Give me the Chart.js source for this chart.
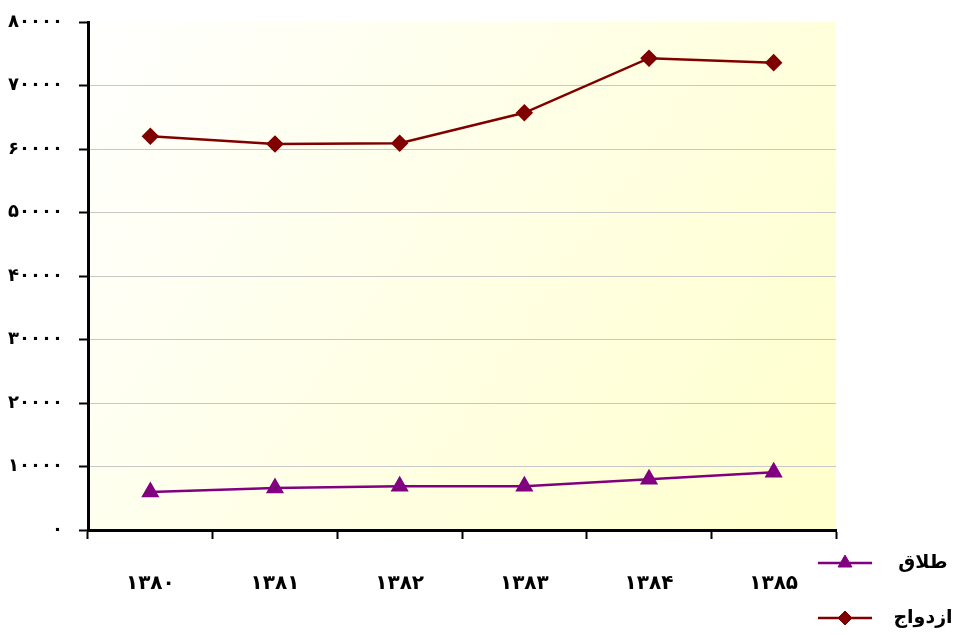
<!DOCTYPE html>
<html>
<head>
<meta charset="utf-8">
<script src="https://cdn.jsdelivr.net/npm/chart.js@4/dist/chart.umd.min.js"></script>
<style>
html,body{margin:0;padding:0;background:#fff;}
#wrap{width:968px;height:635px;position:relative;}
</style>
</head>
<body>
<div id="wrap"><canvas id="c" width="968" height="635"></canvas></div>
<script>
const categories = ['۱۳۸۰','۱۳۸۱','۱۳۸۲','۱۳۸۳','۱۳۸۴','۱۳۸۵'];
const divorceLabel = 'طلاق';
const marriageLabel = 'ازدواج';
const divorce = [6000, 6600, 6900, 6900, 8000, 9100];
const marriage = [62000, 60800, 60900, 65700, 74300, 73600];
const yTickValues = [0,10000,20000,30000,40000,50000,60000,70000,80000];
const yTickLabels = ['۰','۱۰۰۰۰','۲۰۰۰۰','۳۰۰۰۰','۴۰۰۰۰','۵۰۰۰۰','۶۰۰۰۰','۷۰۰۰۰','۸۰۰۰۰'];

const FONT = '"DejaVu Sans", "Noto Sans", sans-serif';

const bgPlugin = {
  id: 'bg',
  beforeDraw(chart) {
    const {ctx, chartArea: a} = chart;
    const g = ctx.createLinearGradient(a.left, a.top, a.right, a.bottom);
    g.addColorStop(0, '#ffffff');
    g.addColorStop(1, '#ffffcc');
    ctx.save();
    ctx.fillStyle = g;
    ctx.fillRect(a.left, a.top, a.right - a.left, a.bottom - a.top);
    ctx.restore();
  }
};

const legendPlugin = {
  id: 'customLegend',
  afterDraw(chart) {
    const ctx = chart.ctx;
    const items = [
      {ds: chart.data.datasets[0], y: 563},
      {ds: chart.data.datasets[1], y: 618}
    ];
    ctx.save();
    items.forEach(it => {
      ctx.strokeStyle = it.ds.borderColor;
      ctx.lineWidth = 2.5;
      ctx.beginPath();
      ctx.moveTo(818, it.y);
      ctx.lineTo(872, it.y);
      ctx.stroke();
      ctx.fillStyle = it.ds.pointBackgroundColor;
      ctx.strokeStyle = it.ds.pointBorderColor;
      ctx.lineWidth = 1;
      Chart.helpers.drawPoint(ctx, {pointStyle: it.ds.pointStyle, radius: it.ds.pointRadius, borderWidth: 1}, 845, it.y);
      ctx.fillStyle = '#000';
      ctx.font = 'bold 19px ' + FONT;
      ctx.textAlign = 'center';
      ctx.textBaseline = 'middle';
      ctx.fillText(it.ds.label, 923, it.y);
    });
    ctx.restore();
  }
};

new Chart(document.getElementById('c'), {
  type: 'line',
  data: {
    labels: categories,
    datasets: [
      {
        label: divorceLabel,
        data: divorce,
        borderColor: '#800080',
        backgroundColor: '#800080',
        pointBackgroundColor: '#800080',
        pointBorderColor: '#800080',
        pointStyle: 'triangle',
        pointRadius: 8,
        pointHoverRadius: 8,
        borderWidth: 2.5,
        tension: 0,
        fill: false
      },
      {
        label: marriageLabel,
        data: marriage,
        borderColor: '#800000',
        backgroundColor: '#800000',
        pointBackgroundColor: '#800000',
        pointBorderColor: '#800000',
        pointStyle: 'rectRot',
        pointRadius: 7,
        pointHoverRadius: 7,
        borderWidth: 2.5,
        tension: 0,
        fill: false
      }
    ]
  },
  options: {
    responsive: false,
    animation: false,
    layout: {padding: {left: 0, top: 22, right: 132, bottom: 0}},
    plugins: {legend: {display: false}, tooltip: {enabled: false}},
    scales: {
      x: {
        offset: true,
        grid: {
          offset: true,
          display: true,
          drawOnChartArea: false,
          drawTicks: true,
          tickLength: 9,
          tickColor: '#000',
          tickWidth: 2,
          color: '#000'
        },
        border: {display: true, color: '#000', width: 3},
        ticks: {
          color: '#000',
          font: {family: FONT, size: 20, weight: 'bold'},
          padding: 33,
          maxRotation: 0
        },
        afterFit(scale) { scale.height = 105; scale.paddingLeft = 0; scale.paddingRight = 0; }
      },
      y: {
        min: 0,
        max: 80000,
        afterBuildTicks(scale) { scale.ticks = yTickValues.map(v => ({value: v})); },
        grid: {
          color: ctx => (ctx.tick && ctx.tick.value === 80000) ? 'rgba(0,0,0,0)' : '#c8c8c8',
          lineWidth: 1,
          drawTicks: true,
          tickLength: 9,
          tickColor: '#000',
          tickWidth: 2
        },
        border: {display: true, color: '#000', width: 3},
        ticks: {
          color: '#000',
          font: {family: FONT, size: 18, weight: 'bold'},
          padding: 16,
          callback: (v) => { const i = yTickValues.indexOf(v); return i >= 0 ? yTickLabels[i] : ''; }
        },
        afterFit(scale) { scale.width = 88; scale.paddingTop = 0; scale.paddingBottom = 0; }
      }
    }
  },
  plugins: [bgPlugin, legendPlugin]
});
</script>
</body>
</html>
